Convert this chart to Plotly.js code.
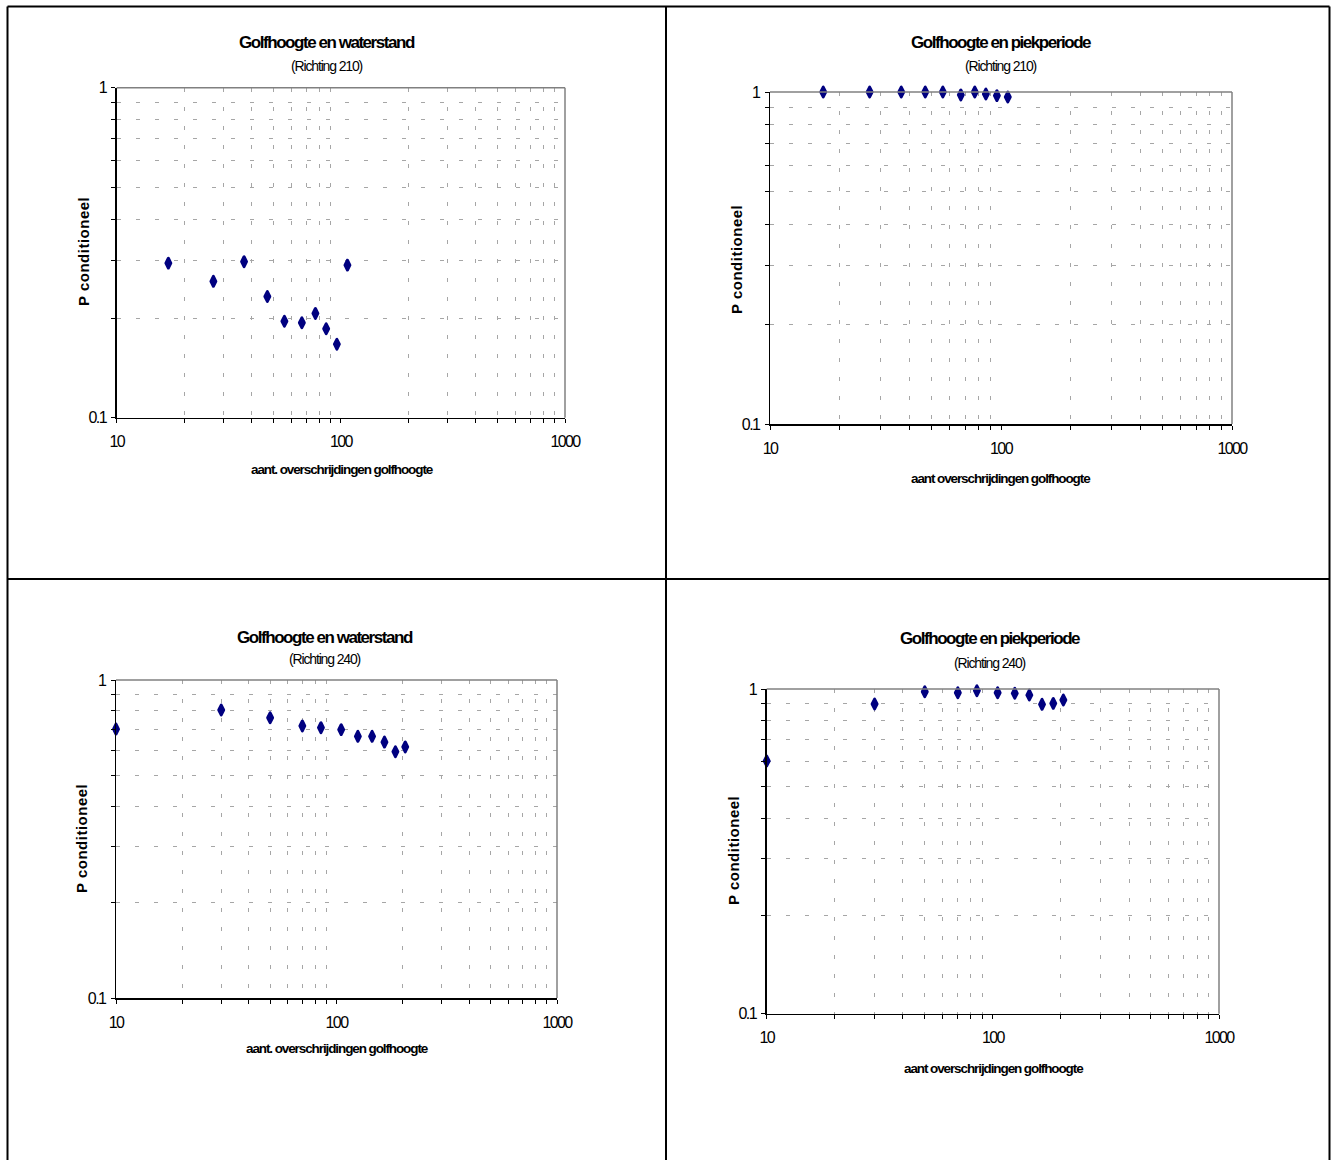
<!DOCTYPE html>
<html>
<head>
<meta charset="utf-8">
<script src="https://cdn.plot.ly/plotly-3.0.1.min.js"></script>
<style>
html, body { margin: 0; padding: 0; background: #ffffff; }
#chart { width: 1337px; height: 1160px; }
.scatterlayer .point { stroke-linejoin: round; }
</style>
</head>
<body>
<div id="chart"></div>
<script>
// ---- data ----
const x210 = [17, 27, 37, 47, 56, 67, 77, 86, 96, 107];
const pWaterstand210 = [0.294, 0.259, 0.297, 0.233, 0.196, 0.194, 0.207, 0.186, 0.167, 0.290];
const pPiekperiode210 = [1.0, 1.0, 1.0, 1.0, 1.0, 0.980, 1.0, 0.986, 0.975, 0.966];

const x240 = [10, 30, 50, 70, 85, 105, 125, 145, 165, 185, 205];
const pWaterstand240 = [0.701, 0.805, 0.761, 0.717, 0.708, 0.698, 0.665, 0.665, 0.638, 0.595, 0.616];
const pPiekperiode240 = [0.600, 0.899, 0.981, 0.974, 0.988, 0.974, 0.970, 0.958, 0.897, 0.903, 0.925];

const chartTitles = ["Golfhoogte en waterstand", "Golfhoogte en piekperiode", "Golfhoogte en waterstand", "Golfhoogte en piekperiode"];
const chartSubtitles = ["(Richting 210)", "(Richting 210)", "(Richting 240)", "(Richting 240)"];
const xTitles = ["aant. overschrijdingen golfhoogte", "aant overschrijdingen golfhoogte", "aant. overschrijdingen golfhoogte", "aant overschrijdingen golfhoogte"];
const yTitle = "P conditioneel";

const xTickVals = [10, 100, 1000];
const xTickText = ["10", "100", "1000"];
const xMinorVals = [20, 30, 40, 50, 60, 70, 80, 90, 200, 300, 400, 500, 600, 700, 800, 900];
const yTickVals = [0.1, 1];
const yTickText = ["0.1", "1"];
const yMinorVals = [0.2, 0.3, 0.4, 0.5, 0.6, 0.7, 0.8, 0.9];

// ---- layout geometry (pixels) ----
const W = 1337, H = 1160;
const px = v => v / W;
const py = v => 1 - v / H;

// plot boxes: [left, right, top, bottom]
const boxes = [
  [116.7, 565, 87.7, 417.7],
  [770, 1232, 92, 424],
  [116, 557, 680, 998],
  [766.7, 1219, 689, 1013.7]
];
// text positions: title x,y ; subtitle y ; xtitle x,y ; ytitle x,y
const textPos = [
  {tx: 327, ty: 42, sy: 66, xx: 342, xy: 469, yx: 83, yy: 252},
  {tx: 1001, ty: 42, sy: 66, xx: 1001, xy: 479, yx: 736, yy: 259},
  {tx: 325, ty: 637, sy: 659, xx: 337, xy: 1048, yx: 81, yy: 839},
  {tx: 990, ty: 638, sy: 663, xx: 994, xy: 1068, yx: 733, yy: 851}
];

const FONT = "Liberation Sans, Arial, Helvetica, sans-serif";
const markerColor = "#000080";

const seriesX = [x210, x210, x240, x240];
const seriesY = [pWaterstand210, pPiekperiode210, pWaterstand240, pPiekperiode240];

function cond(s, sp) {
  return '<span style="letter-spacing:' + sp + 'px">' + s + '</span>';
}

const data = [];
const layout = {
  width: W, height: H,
  margin: {l: 0, r: 0, t: 0, b: 0},
  paper_bgcolor: "#ffffff",
  plot_bgcolor: "#ffffff",
  showlegend: false,
  font: {family: FONT, color: "#000000", size: 13},
  shapes: [],
  annotations: []
};

for (let i = 0; i < 4; i++) {
  const n = i === 0 ? "" : String(i + 1);
  const b = boxes[i];
  data.push({
    type: "scatter", mode: "markers",
    x: seriesX[i], y: seriesY[i],
    xaxis: "x" + n, yaxis: "y" + n,
    cliponaxis: false,
    marker: {symbol: "diamond-tall", size: 7, color: markerColor, line: {width: 3, color: markerColor}},
    hoverinfo: "x+y"
  });
  const gridCommon = {showgrid: true, gridcolor: "#a6a6a6", gridwidth: 1, griddash: "4px,15px"};
  layout["xaxis" + n] = {
    type: "log", range: [1, 3],
    domain: [px(b[0]), px(b[1])],
    anchor: "y" + n,
    showgrid: false, zeroline: false,
    showline: true, linecolor: "#000000", linewidth: 1.5,
    ticks: "outside", ticklen: 4, tickwidth: 1, tickcolor: "#000000",
    tickmode: "array", tickvals: xTickVals, ticktext: xTickText.map(s => cond(s, -1.6)),
    ticklabelstandoff: 5,
    tickfont: {family: FONT, size: 16, color: "#000000"},
    minor: Object.assign({tickmode: "array", tickvals: xMinorVals, ticks: "outside", ticklen: 4, tickcolor: "#000000", tickwidth: 1}, gridCommon),
    fixedrange: true
  };
  layout["yaxis" + n] = {
    type: "log", range: [-1, 0],
    domain: [py(b[3]), py(b[2])],
    anchor: "x" + n,
    showgrid: false, zeroline: false,
    showline: true, linecolor: "#000000", linewidth: 1.5,
    ticks: "outside", ticklen: 4, tickwidth: 1, tickcolor: "#000000",
    tickmode: "array", tickvals: yTickVals, ticktext: yTickText.map(s => cond(s, -1.6)),
    ticklabelstandoff: 2,
    tickfont: {family: FONT, size: 16, color: "#000000"},
    minor: Object.assign({tickmode: "array", tickvals: yMinorVals, ticks: "outside", ticklen: 4, tickcolor: "#000000", tickwidth: 1}, gridCommon),
    fixedrange: true
  };
  // gray top and right border of the plot area
  layout.shapes.push({type: "line", xref: "x" + n + " domain", yref: "y" + n + " domain", x0: 0, x1: 1, y0: 1, y1: 1, line: {color: "#808080", width: 1.5}});
  layout.shapes.push({type: "line", xref: "x" + n + " domain", yref: "y" + n + " domain", x0: 1, x1: 1, y0: 0, y1: 1, line: {color: "#808080", width: 1.5}});

  const t = textPos[i];
  layout.annotations.push({xref: "paper", yref: "paper", x: px(t.tx), y: py(t.ty), xanchor: "center", yanchor: "middle", showarrow: false,
    text: "<b>" + cond(chartTitles[i], -1.45) + "</b>", font: {family: FONT, size: 17, color: "#000000"}});
  layout.annotations.push({xref: "paper", yref: "paper", x: px(t.tx), y: py(t.sy), xanchor: "center", yanchor: "middle", showarrow: false,
    text: cond(chartSubtitles[i], -1.15), font: {family: FONT, size: 14, color: "#000000"}});
  layout.annotations.push({xref: "paper", yref: "paper", x: px(t.xx), y: py(t.xy), xanchor: "center", yanchor: "middle", showarrow: false,
    text: "<b>" + cond(xTitles[i], -1.1) + "</b>", font: {family: FONT, size: 13.5, color: "#000000"}});
  layout.annotations.push({xref: "paper", yref: "paper", x: px(t.yx), y: py(t.yy), xanchor: "center", yanchor: "middle", showarrow: false,
    textangle: -90,
    text: "<b>" + cond(yTitle, 0.5) + "</b>", font: {family: FONT, size: 15, color: "#000000"}});
}

// table frame lines
const frame = [
  [7.5, 6.5, 7.5, 1160],
  [7.5, 6.5, 1329.5, 6.5],
  [1329.5, 6.5, 1329.5, 1160],
  [666, 6.5, 666, 1160],
  [7.5, 579, 1329.5, 579]
];
frame.forEach(f => {
  layout.shapes.push({type: "line", xref: "paper", yref: "paper", x0: px(f[0]), y0: py(f[1]), x1: px(f[2]), y1: py(f[3]), line: {color: "#000000", width: 2}});
});

Plotly.newPlot("chart", data, layout, {displayModeBar: false, staticPlot: true});
</script>
</body>
</html>
